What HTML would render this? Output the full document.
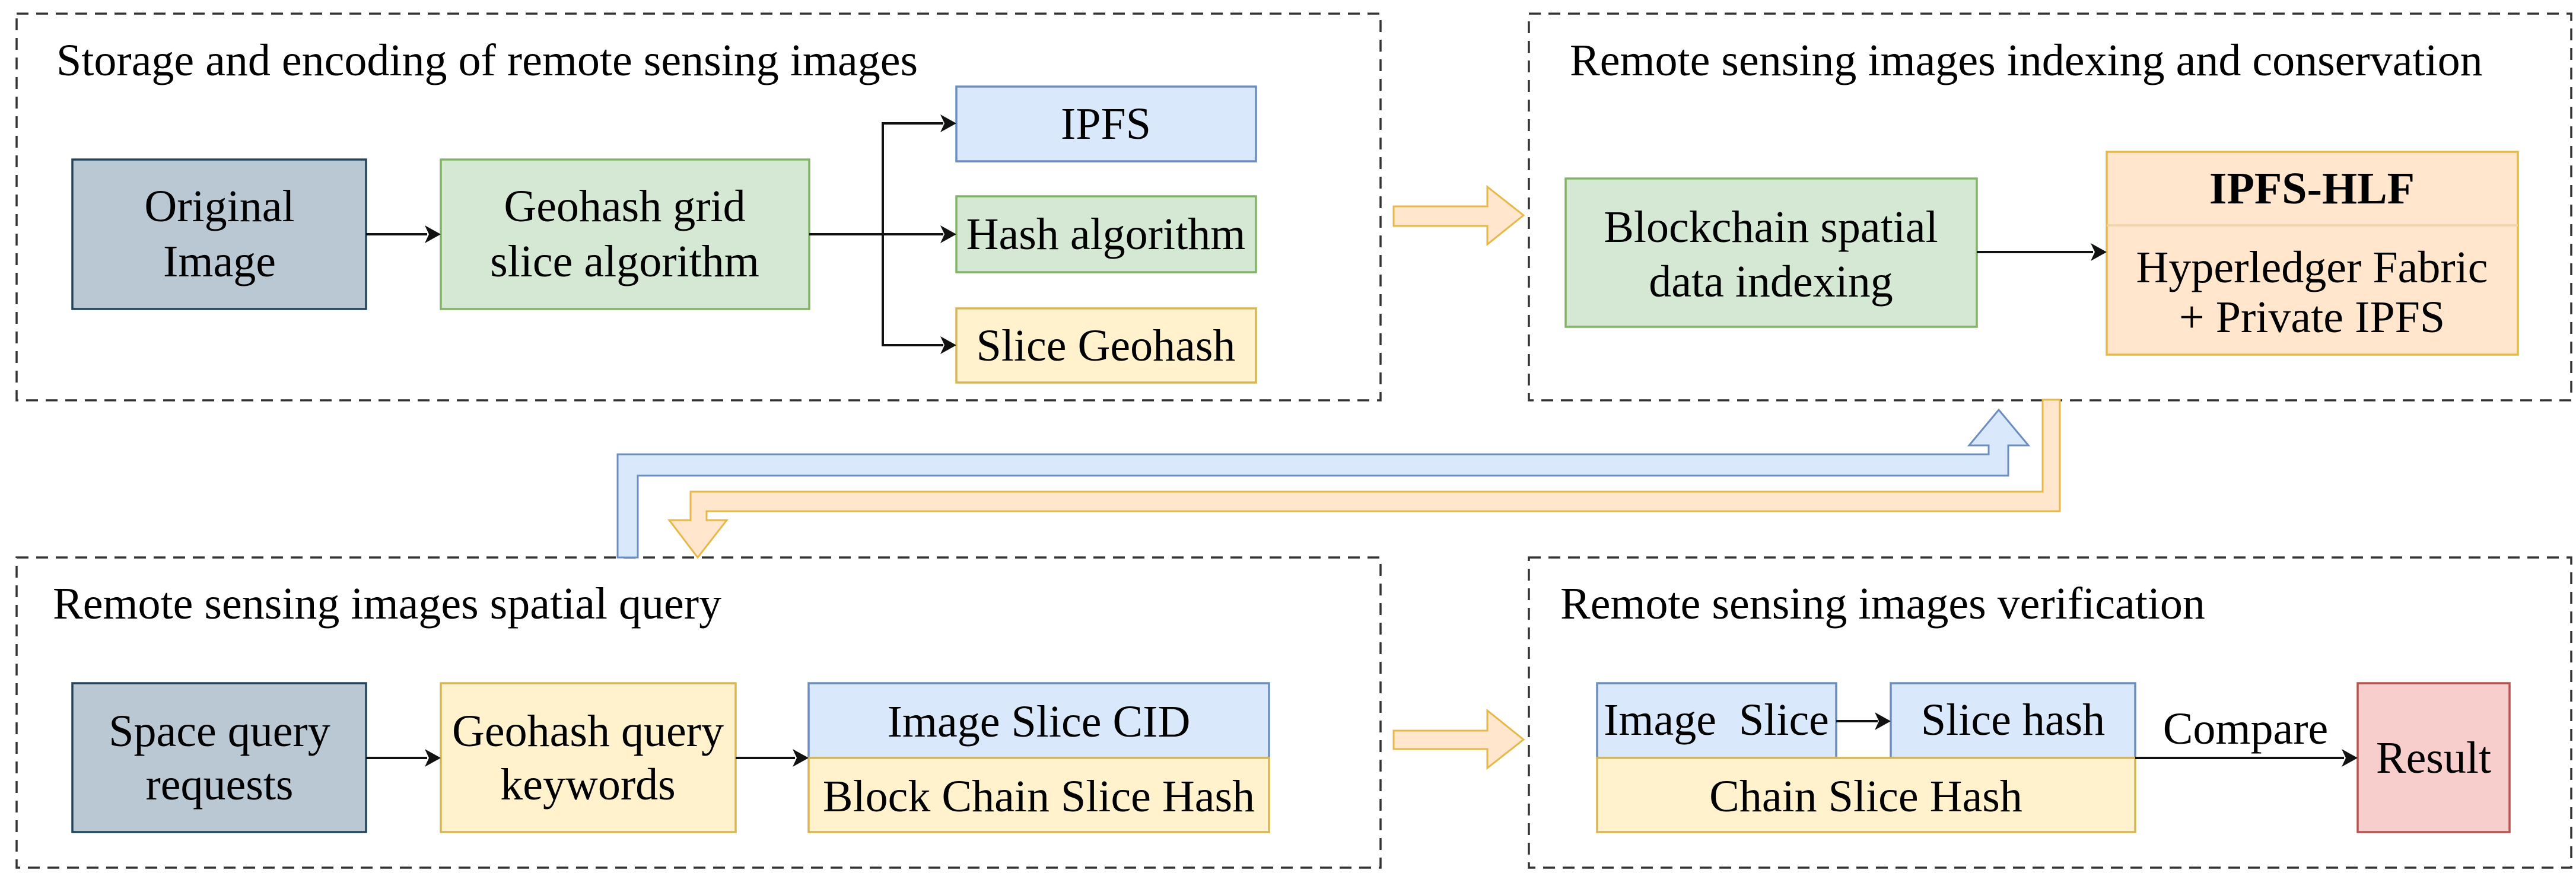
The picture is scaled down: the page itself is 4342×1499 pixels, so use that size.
<!DOCTYPE html>
<html><head><meta charset="utf-8"><style>
html,body{margin:0;padding:0;background:#fff;}
svg{display:block;font-family:"Liberation Serif","Times New Roman",Times,serif;}
svg text{font-family:"Liberation Serif","Times New Roman",Times,serif;font-size:76px;fill:#000;}
</style></head><body>
<svg width="4342" height="1499" viewBox="0 0 4342 1499" xmlns="http://www.w3.org/2000/svg" font-family="Liberation Serif, serif">
<g fill="none" stroke="#333" stroke-width="3.5" stroke-dasharray="20,13">
<rect x="28" y="23" width="2299" height="652"/>
<rect x="2577" y="23" width="1757" height="652"/>
<rect x="28" y="940" width="2299" height="523"/>
<rect x="2577" y="940" width="1757" height="523"/>
</g>
<g font-family="Liberation Serif, serif" font-size="76">
<text x="95" y="127">Storage and encoding of remote sensing images</text>
<text x="2646" y="127">Remote sensing images indexing and conservation</text>
<text x="89" y="1043">Remote sensing images spatial query</text>
<text x="2630" y="1043">Remote sensing images verification</text>
</g>

<g stroke-width="3.5">
<rect x="122" y="269" width="495" height="252" fill="#bac8d3" stroke="#23445d"/>
<rect x="743" y="269" width="621" height="252" fill="#d5e8d4" stroke="#82b366"/>
<rect x="1612" y="146" width="505" height="126" fill="#dae8fc" stroke="#6c8ebf"/>
<rect x="1612" y="331" width="505" height="128" fill="#d5e8d4" stroke="#82b366"/>
<rect x="1612" y="520" width="505" height="125" fill="#fff2cc" stroke="#d6b656"/>
<rect x="2639" y="301" width="693" height="250" fill="#d5e8d4" stroke="#82b366"/>
<rect x="3551" y="256" width="693" height="342" fill="#ffe6cc" stroke="#e6b84a"/>
<line x1="3551" y1="380" x2="4244" y2="380" stroke="#f0d3a6"/>
<rect x="122" y="1152" width="495" height="251" fill="#bac8d3" stroke="#23445d"/>
<rect x="743" y="1152" width="497" height="251" fill="#fff2cc" stroke="#d6b656"/>
<rect x="1363" y="1152" width="776" height="126" fill="#dae8fc" stroke="#6c8ebf"/>
<rect x="1363" y="1278" width="776" height="125" fill="#fff2cc" stroke="#d6b656"/>
<rect x="2692" y="1152" width="403" height="126" fill="#dae8fc" stroke="#6c8ebf"/>
<rect x="3187" y="1152" width="412" height="126" fill="#dae8fc" stroke="#6c8ebf"/>
<rect x="2692" y="1278" width="907" height="125" fill="#fff2cc" stroke="#d6b656"/>
<rect x="3974" y="1152" width="256" height="251" fill="#f8cecc" stroke="#b85450"/>
</g>

<g stroke="#111" stroke-width="4" fill="none">
<line x1="617" y1="395" x2="720" y2="395"/>
<line x1="1364" y1="395" x2="1590" y2="395"/>
<polyline points="1590,208 1488,208 1488,582 1590,582"/>
<line x1="3332" y1="425" x2="3528" y2="425"/>
<line x1="617" y1="1278" x2="720" y2="1278"/>
<line x1="1240" y1="1278" x2="1340" y2="1278"/>
<line x1="3095" y1="1216" x2="3165" y2="1216"/>
<line x1="3599" y1="1278" x2="3951" y2="1278"/>
</g>
<g fill="#111">
<polygon points="743,395 716,380 723,395 716,410"/>
<polygon points="1612,395 1585,380 1592,395 1585,410"/>
<polygon points="1612,208 1585,193 1592,208 1585,223"/>
<polygon points="1612,582 1585,567 1592,582 1585,597"/>
<polygon points="3551,425 3524,410 3531,425 3524,440"/>
<polygon points="743,1278 716,1263 723,1278 716,1293"/>
<polygon points="1363,1278 1336,1263 1343,1278 1336,1293"/>
<polygon points="3187,1216 3160,1201 3167,1216 3160,1231"/>
<polygon points="3974,1278 3947,1263 3954,1278 3947,1293"/>
</g>

<g stroke-width="3">
<polygon points="2349,348 2507,348 2507,315 2568,363 2507,412 2507,381 2349,381" fill="#ffe6cc" stroke="#e6b84a"/>
<polygon points="2349,1232 2507,1232 2507,1198 2568,1247 2507,1295 2507,1263 2349,1263" fill="#ffe6cc" stroke="#e6b84a"/>
<polygon points="1041,940 1041,766 3352,766 3352,751 3319,751 3369,691 3419,751 3385,751 3385,802 1075,802 1075,940" fill="#dae8fc" stroke="#6c8ebf"/>
<polygon points="3472,674 3472,862 1191,862 1191,877 1225,877 1176,940 1128,877 1164,877 1164,829 3443,829 3443,674" fill="#ffe6cc" stroke="#e6b84a"/>
</g>

<g text-anchor="middle" font-family="Liberation Serif, serif" font-size="76">
<text x="370" y="373">Original</text>
<text x="370" y="466">Image</text>
<text x="1053" y="373">Geohash grid</text>
<text x="1053" y="466">slice algorithm</text>
<text x="1864" y="234">IPFS</text>
<text x="1864" y="420">Hash algorithm</text>
<text x="1864" y="608">Slice Geohash</text>
<text x="2985" y="408">Blockchain spatial</text>
<text x="2985" y="500">data indexing</text>
<text x="3897" y="343" font-weight="bold">IPFS-HLF</text>
<text x="3897" y="476">Hyperledger Fabric</text>
<text x="3897" y="560">+ Private IPFS</text>
<text x="370" y="1258">Space query</text>
<text x="370" y="1348">requests</text>
<text x="991" y="1258">Geohash query</text>
<text x="991" y="1348">keywords</text>
<text x="1751" y="1242">Image Slice CID</text>
<text x="1751" y="1368">Block Chain Slice Hash</text>
<text x="2893" y="1239" xml:space="preserve">Image  Slice</text>
<text x="3393" y="1239">Slice hash</text>
<text x="3145" y="1368">Chain Slice Hash</text>
<text x="4102" y="1303">Result</text>
<text x="3785" y="1254">Compare</text>
</g>
</svg>
</body></html>
